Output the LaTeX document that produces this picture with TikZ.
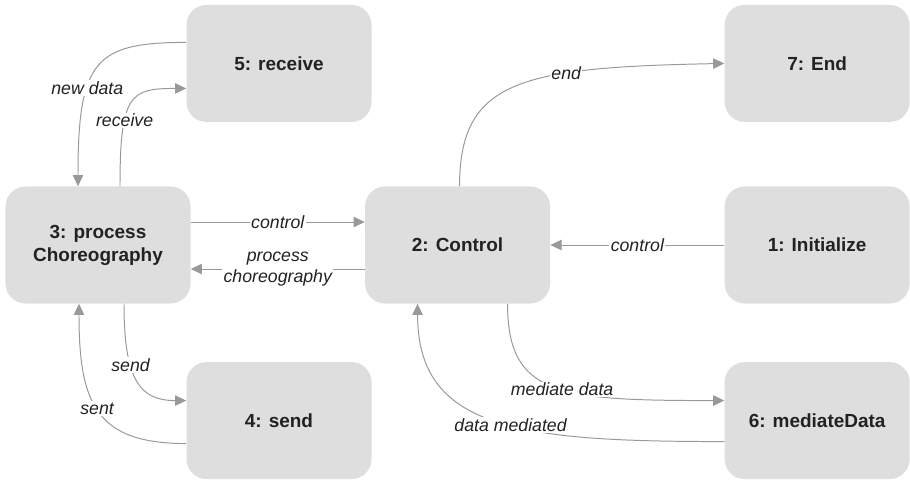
\documentclass[tikz,border=0pt]{standalone}
\usepackage{fontspec}
\setmainfont{Liberation Sans}
\usepackage{xcolor}
\usetikzlibrary{arrows.meta, positioning, calc}

\definecolor{boxgray}{HTML}{DEDEDE}
\definecolor{linegray}{HTML}{999999}
\definecolor{textdark}{HTML}{222222}

\begin{document}
\begin{tikzpicture}[
    x=0.25mm, y=-0.25mm,
    node distance=16mm and 43.5mm,
    state/.style={rectangle, fill=boxgray, text=textdark, font=\fontsize{13.5}{16.2}\selectfont\bfseries, align=center, rounded corners=5mm, minimum width=46.25mm, minimum height=29.25mm, inner sep=0pt},
    arrow/.style={->, >={Triangle[length=2.8mm, width=2.6mm]}, draw=linegray, line width=0.7pt},
    lbl/.style={fill=white, text=textdark, font=\fontsize{12.6}{15.1}\selectfont\itshape, inner sep=1pt, align=center}
]
\useasboundingbox (-98,-245) rectangle (812,235);

\node[state] (proc) at (0,0) {3: process\\Choreography};
\node[state, right=of proc] (ctrl) {2: Control};
\node[state, right=of ctrl] (init) {1: Initialize};
\node[state, above=of init] (end) {7: End};
\node[state, below=14.5mm of init] (med) {6: mediateData};
\node[state, above=16mm of proc, xshift=45.25mm] (recv) {5: receive};
\node[state, below=14.5mm of proc, xshift=45.25mm] (send) {4: send};

% receive loop
\draw[arrow] ($(recv.west)+(0,-21)$) .. controls +(-91,0) and +(0,-126) .. ($(proc.north)+(-20,0)$) node[lbl, pos=.64] {new data};
\draw[arrow] ($(proc.north)+(22,0)$) .. controls +(0,-92) and +(-56,0) .. ($(recv.west)+(0,25)$) node[lbl, pos=.33] {receive};

% send loop
\draw[arrow] ($(proc.south)+(26,0)$) .. controls +(0,77) and +(-46,0) .. ($(send.west)+(0,-20)$) node[lbl, pos=.35] {send};
\draw[arrow] ($(send.west)+(0,23)$) .. controls +(-90,0) and +(0,100) .. ($(proc.south)+(-19,0)$) node[lbl, pos=.52] {sent};

% control
\draw[arrow] ($(proc.east)+(0,-23)$) -- node[lbl] {control} ($(ctrl.west)+(0,-23)$);
\draw[arrow] ($(ctrl.west)+(0,24)$) -- node[lbl] {process\\choreography} ($(proc.east)+(0,24)$);
\draw[arrow] (init.west) -- node[lbl] {control} (ctrl.east);
\draw[arrow] ($(ctrl.north)+(2,0)$) .. controls +(0,-106) and +(-204,4) .. (end.west) node[lbl, pos=.67] {end};

% mediation
\draw[arrow] ($(ctrl.south)+(50,0)$) .. controls +(0,92) and +(-166,0) .. ($(med.west)+(0,-20)$) node[lbl, pos=.54] {mediate data};
\draw[arrow] ($(med.west)+(0,21)$) .. controls +(-204,0) and +(0,126) .. ($(ctrl.south)+(-40,0)$) node[lbl, pos=.45] {data mediated};

\end{tikzpicture}
\end{document}
